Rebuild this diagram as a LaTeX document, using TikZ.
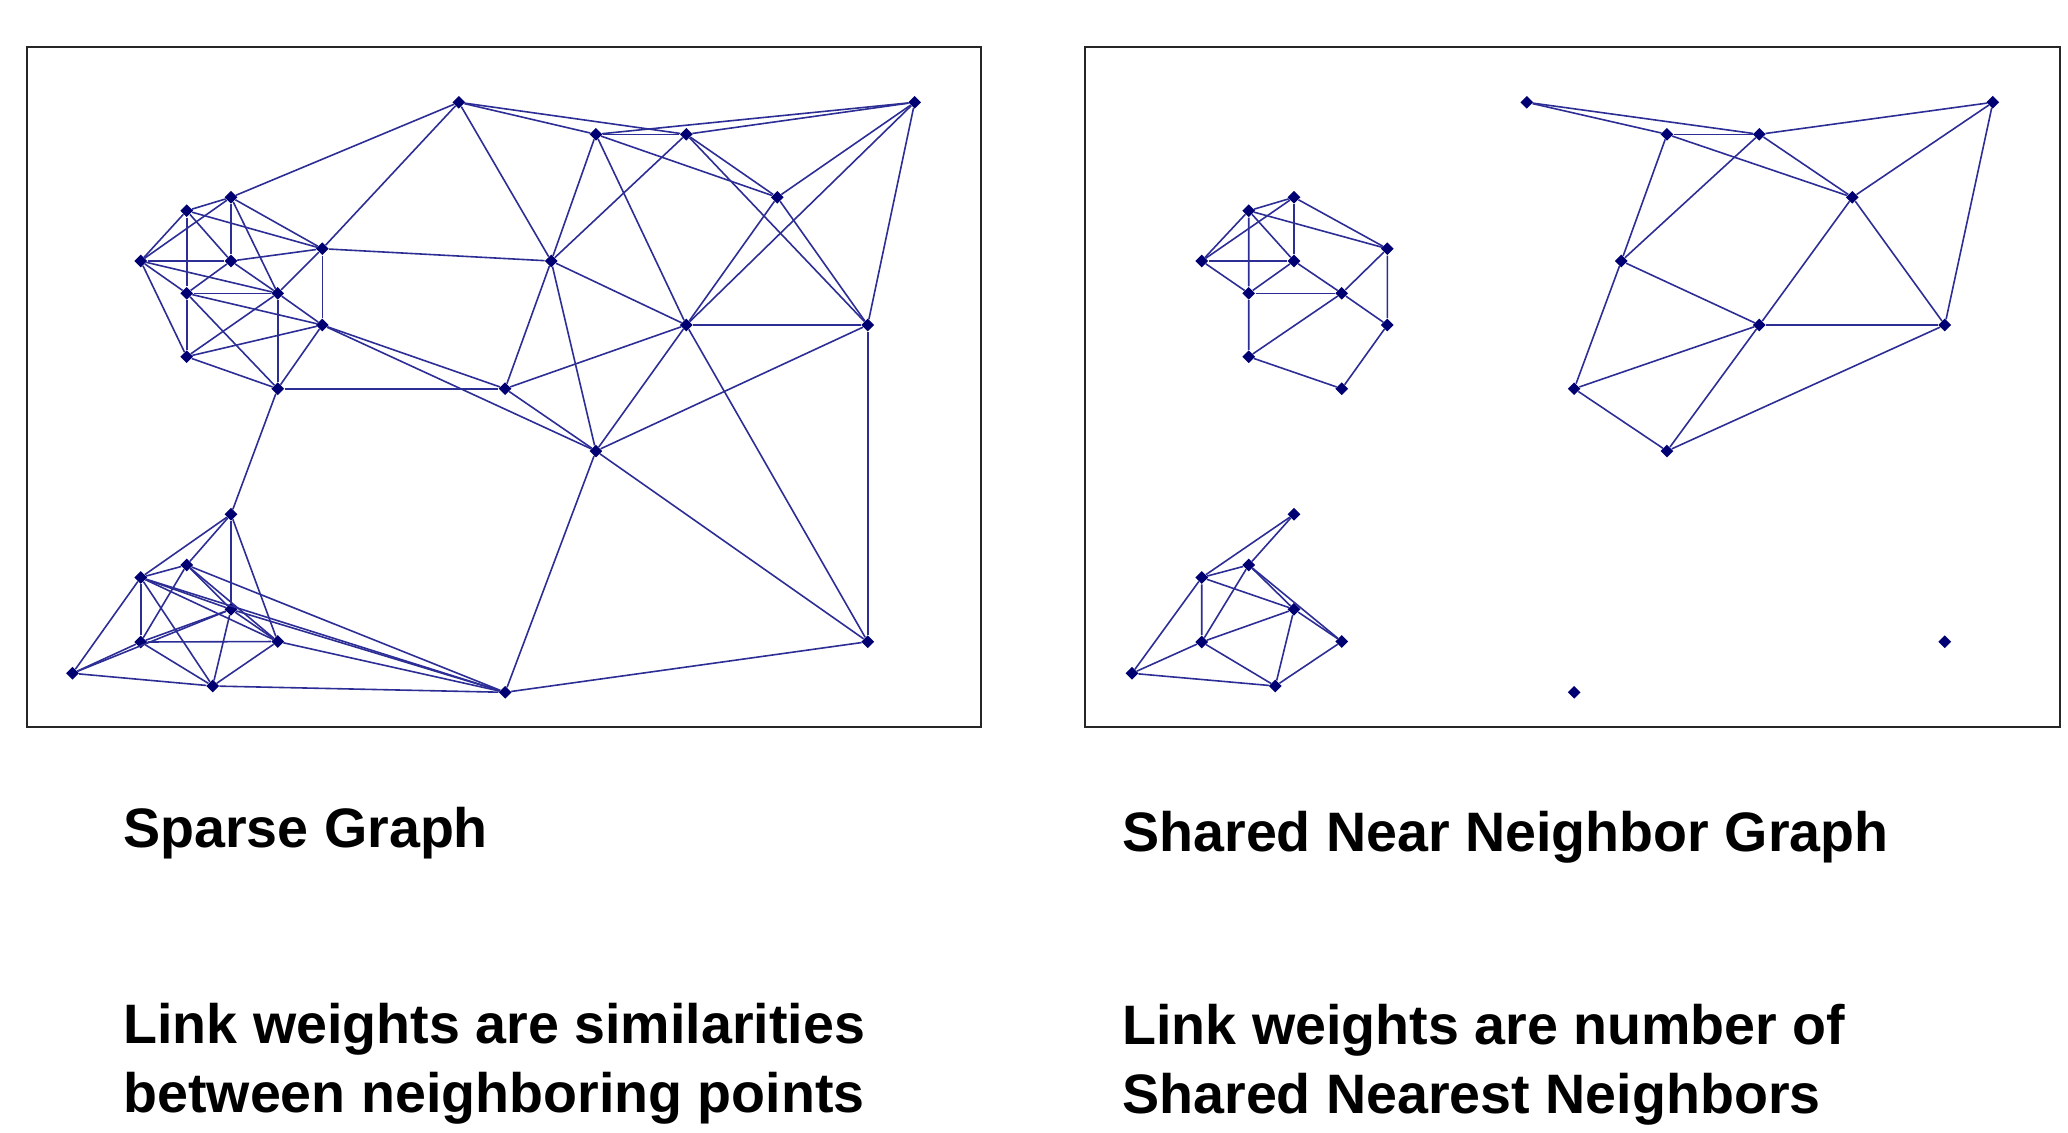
\documentclass[tikz,border=0pt]{standalone}
\usepackage{fontspec}
\setmainfont{Liberation Sans}
\usepackage{tikz}
\usetikzlibrary{shapes.geometric}
\definecolor{linkblue}{RGB}{45,45,150}
\definecolor{pointblue}{RGB}{0,0,115}
\tikzset{
    pt/.style={diamond, fill=pointblue, inner sep=0pt, minimum width=6.5pt, minimum height=6.5pt},
    link/.style={draw=linkblue, line width=0.8pt},
    panel/.style={draw=black!85, line width=1.1pt},
    caption/.style={font=\bfseries\fontsize{27.8}{34.5}\selectfont, anchor=base west, inner sep=0pt, align=left}
}
% the same 30 points in both panels, names prefixed by #1
\newcommand{\placepoints}[1]{%
    \foreach \n/\px/\py in {1/231/197.3, 2/186.7/210.7, 3/140.7/261, 4/231/261, 5/322.3/248.7,
        6/186.7/293.3, 7/277.7/293.3, 8/322.3/325, 9/186.7/356.7, 10/277.7/388.7,
        11/458.8/102.3, 12/595.9/134.3, 13/686.3/134.3, 14/914.7/102.3, 15/777.3/197.3,
        16/551.2/261, 17/686.3/325, 18/867.7/325, 19/505.1/388.7, 20/595.9/451,
        21/867.7/641.7, 22/505.2/692.3,
        23/231/514.3, 24/186.7/565, 25/140.7/577.5, 26/231/609.3, 27/140.7/642,
        28/277.7/641.5, 29/72.5/673.3, 30/212.7/686}
        \node[pt] (#1\n) at (\px,\py) {};
}

\begin{document}
\begin{tikzpicture}[x=0.5pt, y=-0.5pt]
    \useasboundingbox (0,0) rectangle (2068,1132);

    % sparse graph
    \draw[panel] (26.7,46.7) rectangle (980.6,726.7);
    \placepoints{s}
    \foreach \u/\v in {1/2, 1/3, 1/4, 1/5, 1/7, 2/3, 2/4, 2/5, 2/6, 3/4, 3/6, 3/7, 3/9,
        4/5, 4/6, 4/7, 5/7, 5/8, 6/7, 6/8, 6/9, 6/10, 7/8, 7/9, 7/10, 8/9, 8/10, 9/10,
        11/1, 11/5, 5/16, 8/19, 8/20, 10/19, 10/23,
        11/12, 11/13, 11/16, 14/12, 14/13, 12/13, 12/16, 12/17, 12/15, 13/16, 13/15, 13/18,
        14/15, 14/17, 14/18, 15/17, 15/18, 16/17, 16/19, 16/20, 17/18, 17/19, 17/20, 17/21,
        18/20, 18/21, 19/20, 20/21, 20/22, 21/22,
        23/24, 23/25, 23/26, 23/28, 24/25, 24/26, 24/27, 24/28, 25/26, 25/27, 25/28, 25/29,
        25/30, 26/27, 26/28, 26/29, 26/30, 27/28, 27/29, 27/30, 28/30, 29/30,
        24/22, 25/22, 26/22, 28/22, 30/22}
        \draw[link] (s\u) -- (s\v);

    % shared near neighbor graph
    \begin{scope}[xshift=528.95pt, xscale=1.022]
        \draw[panel] (26.7,46.7) rectangle (980.6,726.7);
        \placepoints{n}
        \foreach \u/\v in {1/2, 1/3, 1/4, 1/5, 2/3, 2/4, 2/5, 2/6, 3/4, 3/6, 4/6, 4/7,
            5/7, 5/8, 6/7, 6/9, 7/8, 7/9, 8/10, 9/10,
            11/12, 11/13, 12/13, 13/14, 12/16, 12/15, 13/16, 13/15, 14/15, 14/18, 15/17,
            15/18, 16/17, 16/19, 17/18, 17/19, 17/20, 18/20, 19/20,
            23/24, 23/25, 24/25, 24/26, 24/27, 24/28, 25/26, 25/27, 25/29, 26/27, 26/28,
            26/30, 27/29, 27/30, 28/30, 29/30}
            \draw[link] (n\u) -- (n\v);
    \end{scope}

    % captions (multi-line ones sit on their last baseline)
    \node[caption] (sname) at (123,847) {Sparse Graph};
    \node[caption] (sinfo) at (123,1112) {Link weights are similarities\\between neighboring points};
    \node[caption] (nname) at (1122,851) {Shared Near Neighbor Graph};
    \node[caption] (ninfo) at (1122,1113) {Link weights are number of\\Shared Nearest Neighbors};
\end{tikzpicture}
\end{document}
